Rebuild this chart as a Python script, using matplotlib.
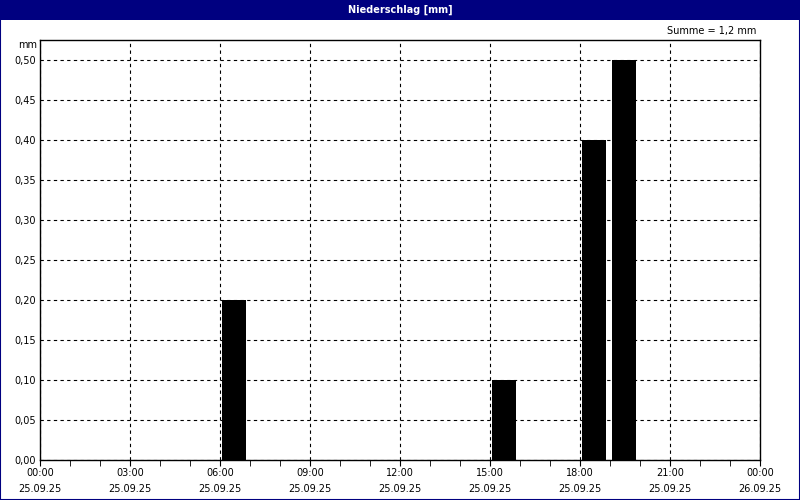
import matplotlib
matplotlib.use("Agg")
import matplotlib.pyplot as plt
from matplotlib.patches import Rectangle
from matplotlib.ticker import MultipleLocator, FuncFormatter

# Data
hours = [6, 15, 18, 19]
values = [0.2, 0.1, 0.4, 0.5]
tick_hours = [0, 3, 6, 9, 12, 15, 18, 21, 24]
tick_labels = ["00:00\n25.09.25", "03:00\n25.09.25", "06:00\n25.09.25", "09:00\n25.09.25",
               "12:00\n25.09.25", "15:00\n25.09.25", "18:00\n25.09.25", "21:00\n25.09.25",
               "00:00\n26.09.25"]
title = "Niederschlag [mm]"
summe = "Summe = 1,2 mm"

navy = "#000080"
fs = 7

fig = plt.figure(figsize=(8, 5), dpi=100)
fig.patch.set_facecolor("white")

# title bar and border
fig.patches.append(Rectangle((0, 0.96), 1, 0.04, transform=fig.transFigure,
                             facecolor=navy, edgecolor="none", zorder=0))
fig.patches.append(Rectangle((0.0006, 0.001), 0.9988, 0.998, transform=fig.transFigure,
                             facecolor="none", edgecolor=navy, linewidth=1.5, zorder=5))
fig.text(0.5, 0.98, title, color="white", ha="center", va="center",
         fontsize=fs, fontweight="bold", family="DejaVu Sans")

ax = fig.add_axes([0.05, 0.08, 0.90, 0.84])
ax.bar([h + 0.067 for h in hours], values, width=0.8, align="edge",
       color="black", edgecolor="black", linewidth=0, zorder=3)

ax.set_xlim(0, 24)
ax.set_ylim(0, 0.525)
ax.set_xticks(tick_hours)
ax.set_xticklabels(tick_labels, fontsize=fs, linespacing=1.75)
ax.xaxis.set_minor_locator(MultipleLocator(1))
ax.yaxis.set_major_locator(MultipleLocator(0.05))
ax.yaxis.set_major_formatter(FuncFormatter(lambda v, p: f"{v:.2f}".replace(".", ",")))
ax.tick_params(axis="y", labelsize=fs, length=0, pad=3)
ax.tick_params(axis="x", which="major", length=4, direction="out", pad=1.5)
ax.tick_params(axis="x", which="minor", length=4, direction="out")

ax.grid(True, which="major", color="black", linestyle=(0, (3, 3)), linewidth=0.8, zorder=1)
ax.set_axisbelow(True)
for s in ax.spines.values():
    s.set_color("black")
    s.set_linewidth(1.0)

fig.text(0.046, 0.91, "mm", fontsize=fs, ha="right", va="center")
fig.text(0.945, 0.938, summe, fontsize=fs, ha="right", va="center")

fig.savefig("out.png", dpi=100)
